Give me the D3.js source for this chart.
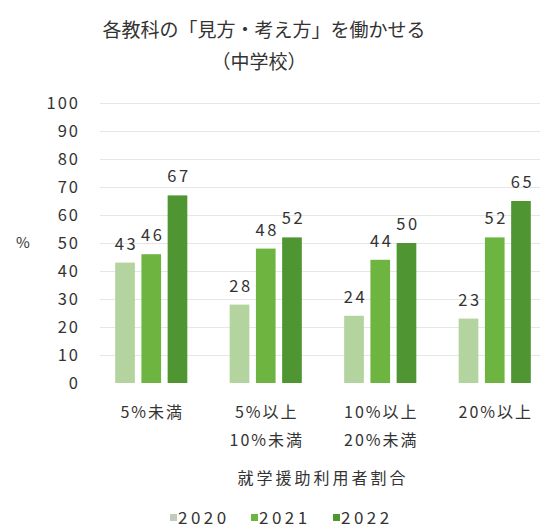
<!DOCTYPE html>
<html>
<head>
<meta charset="utf-8">
<script src="https://cdn.jsdelivr.net/npm/d3@7"></script>
<style>
  html, body { margin: 0; padding: 0; background: #ffffff; }
  svg text { font-family: "Noto Sans CJK JP", "Noto Sans", sans-serif; fill: #333333; }
</style>
</head>
<body>
<svg id="chart" width="558" height="529"></svg>
<script>
// Share of students on school-attendance assistance (bands) vs. percentages per year
const categories = [["5%未満"], ["5%以上", "10%未満"], ["10%以上", "20%未満"], ["20%以上"]];
const years = ["2020", "2021", "2022"];
const values2020 = [43, 28, 24, 23];
const values2021 = [46, 48, 44, 52];
const values2022 = [67, 52, 50, 65];
const yTicks = [0, 10, 20, 30, 40, 50, 60, 70, 80, 90, 100];
const colors = ["#b3d39f", "#6db540", "#4f9632"];

const titleLines = ["各教科の「見方・考え方」を働かせる", "（中学校）"];
const xTitle = "就学援助利用者割合";
const yTitle = "%";

const series = [values2020, values2021, values2022];
const svg = d3.select("#chart");

const x0 = d3.scaleBand()
  .domain(d3.range(categories.length))
  .range([94, 552])
  .paddingInner(0.37)
  .paddingOuter(0.185);

const x1 = d3.scaleBand()
  .domain(years)
  .range([0, x0.bandwidth()])
  .paddingInner(0.25);

const y = d3.scaleLinear().domain([0, 100]).range([383, 103]);

// Title
svg.append("g").selectAll("text")
  .data(titleLines)
  .join("text")
  .attr("x", (d, i) => i === 0 ? 264 : 259)
  .attr("y", (d, i) => 37 + i * 32)
  .attr("text-anchor", "middle")
  .attr("font-size", 19)
  .attr("font-weight", 400)
  .attr("fill", "#222")
  .text(d => d);

// Y axis with light gridlines
const yAxis = svg.append("g")
  .attr("transform", "translate(100,0)")
  .call(d3.axisLeft(y).tickValues(yTicks).tickSize(-440).tickPadding(20));
yAxis.select(".domain").remove();
yAxis.selectAll(".tick line")
  .attr("stroke", "#e6e6e6")
  .attr("stroke-width", 1)
  .attr("display", d => d === 0 ? "none" : null);
yAxis.selectAll(".tick text")
  .attr("font-size", 16.5)
  .attr("letter-spacing", 2)
  .attr("fill", "#333");

svg.append("text")
  .attr("x", 23)
  .attr("y", 248)
  .attr("text-anchor", "middle")
  .attr("font-size", 15)
  .text(yTitle);

// Bars
const groups = svg.append("g").selectAll("g")
  .data(categories.map((c, i) => i))
  .join("g")
  .attr("transform", i => `translate(${x0(i)},0)`);

groups.selectAll("rect")
  .data(i => years.map((yr, k) => ({ yr, k, v: series[k][i] })))
  .join("rect")
  .attr("x", d => x1(d.yr))
  .attr("y", d => y(d.v))
  .attr("width", x1.bandwidth())
  .attr("height", d => y(0) - y(d.v))
  .attr("fill", d => colors[d.k]);

groups.selectAll("text")
  .data(i => years.map((yr, k) => ({ yr, k, v: series[k][i] })))
  .join("text")
  .attr("x", d => x1(d.yr) + x1.bandwidth() / 2 + 1.5)
  .attr("y", d => y(d.v) - 13)
  .attr("text-anchor", "middle")
  .attr("font-size", 16.5)
  .attr("letter-spacing", 2.5)
  .text(d => d.v);

// X axis category labels (two lines where needed)
const xAxis = svg.append("g")
  .attr("transform", "translate(0,383)")
  .call(d3.axisBottom(x0).tickSize(0).tickFormat(() => ""));
xAxis.select(".domain").remove();
xAxis.selectAll(".tick text")
  .attr("y", 0)
  .attr("dy", 0)
  .attr("font-size", 16)
  .attr("letter-spacing", 2)
  .attr("fill", "#333")
  .each(function (i) {
    const t = d3.select(this);
    categories[i].forEach((line, j) => {
      t.append("tspan")
        .attr("x", 1)
        .attr("y", 35 + j * 28)
        .text(line);
    });
  });

svg.append("text")
  .attr("x", 323)
  .attr("y", 484)
  .attr("text-anchor", "middle")
  .attr("font-size", 16)
  .attr("letter-spacing", 3)
  .text(xTitle);

// Legend
const legendX = [170, 251, 333];
const legend = svg.append("g").selectAll("g")
  .data(years)
  .join("g")
  .attr("transform", (d, i) => `translate(${legendX[i]},518)`);
legend.append("rect")
  .attr("x", 0)
  .attr("y", -4)
  .attr("width", 7)
  .attr("height", 7)
  .attr("fill", (d, i) => i === 0 ? "#c2c9bd" : colors[i]);
legend.append("text")
  .attr("x", 8)
  .attr("y", 6)
  .attr("font-size", 17)
  .attr("letter-spacing", 3.5)
  .text(d => d);
</script>
</body>
</html>
